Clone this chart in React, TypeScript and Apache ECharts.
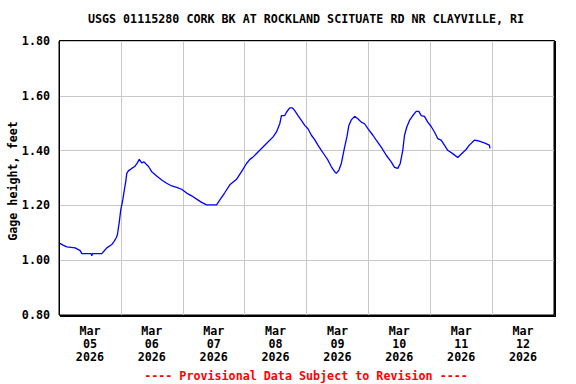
import React, { useEffect, useRef } from "react";
import * as echarts from "echarts";

const titleText = "USGS 01115280 CORK BK AT ROCKLAND SCITUATE RD NR CLAYVILLE, RI";
const yAxisTitle = "Gage height, feet";
const footerText = "---- Provisional Data Subject to Revision ----";
const dayLabels = ["Mar\n05\n2026", "Mar\n06\n2026", "Mar\n07\n2026", "Mar\n08\n2026", "Mar\n09\n2026", "Mar\n10\n2026", "Mar\n11\n2026", "Mar\n12\n2026"];

// days since Mar 05 00:00
const days = [
  0.0, 0.073, 0.127, 0.261, 0.342, 0.369, 0.52, 0.53, 0.54, 0.692, 0.718, 0.773, 0.853, 0.89, 0.923, 0.944, 0.96, 0.976,
  0.998, 1.031, 1.056, 1.079, 1.095, 1.121, 1.176, 1.229, 1.266, 1.298, 1.337, 1.374, 1.406, 1.444, 1.498, 1.579, 1.66,
  1.74, 1.821, 1.902, 1.982, 2.063, 2.144, 2.224, 2.305, 2.385, 2.547, 2.6, 2.681, 2.761, 2.869, 2.95, 3.031, 3.084,
  3.137, 3.245, 3.353, 3.46, 3.515, 3.568, 3.595, 3.648, 3.676, 3.729, 3.773, 3.81, 3.863, 3.918, 3.971, 4.024, 4.079,
  4.132, 4.185, 4.24, 4.294, 4.347, 4.402, 4.455, 4.482, 4.524, 4.563, 4.589, 4.616, 4.653, 4.685, 4.724, 4.777, 4.831,
  4.885, 4.939, 4.992, 5.073, 5.127, 5.208, 5.289, 5.369, 5.423, 5.476, 5.515, 5.556, 5.584, 5.621, 5.665, 5.718, 5.773,
  5.815, 5.853, 5.906, 5.96, 6.015, 6.068, 6.121, 6.176, 6.229, 6.282, 6.363, 6.444, 6.498, 6.579, 6.632, 6.713, 6.766,
  6.874, 6.955, 6.966,
];
const gageHeight = [
  1.063, 1.054, 1.049, 1.045, 1.035, 1.024, 1.024, 1.016, 1.024, 1.024, 1.031, 1.045, 1.057, 1.069, 1.081, 1.093, 1.118, 1.142,
  1.184, 1.22, 1.257, 1.287, 1.317, 1.326, 1.335, 1.343, 1.355, 1.368, 1.355, 1.359, 1.351, 1.343, 1.323, 1.307, 1.293,
  1.281, 1.271, 1.266, 1.259, 1.245, 1.235, 1.223, 1.211, 1.202, 1.202, 1.22, 1.247, 1.275, 1.295, 1.323, 1.353, 1.368,
  1.377, 1.401, 1.426, 1.45, 1.468, 1.498, 1.528, 1.528, 1.54, 1.556, 1.556, 1.546, 1.528, 1.51, 1.492, 1.48, 1.456,
  1.44, 1.42, 1.401, 1.383, 1.365, 1.341, 1.323, 1.317, 1.329, 1.353, 1.383, 1.413, 1.45, 1.492, 1.512, 1.525, 1.516,
  1.504, 1.498, 1.48, 1.456, 1.438, 1.413, 1.383, 1.359, 1.339, 1.335, 1.353, 1.401, 1.456, 1.486, 1.51, 1.528, 1.543,
  1.543, 1.528, 1.525, 1.504, 1.488, 1.468, 1.444, 1.438, 1.42, 1.401, 1.389, 1.375, 1.387, 1.404, 1.42, 1.438, 1.436,
  1.428, 1.42, 1.408,
];

const FONT = "'DejaVu Sans Mono', 'Liberation Mono', monospace";
const FS = 11.7;

export default function App() {
  const ref = useRef<HTMLDivElement>(null);
  useEffect(() => {
    if (!ref.current) return;
    const chart = echarts.init(ref.current, undefined, { renderer: "svg" });
    const data = days.map((d, i) => [d, gageHeight[i]]);
    chart.setOption({
      animation: false,
      backgroundColor: "#ffffff",
      grid: { left: 59, right: 22, top: 41, bottom: 69, show: true, borderColor: "#000", borderWidth: 1, backgroundColor: "#fff" },
      xAxis: [
        { type: "value", min: 0, max: 8, show: false },
        {
          type: "category",
          data: dayLabels,
          boundaryGap: true,
          position: "bottom",
          axisLine: { show: false },
          axisTick: { show: false },
          splitLine: { show: true, lineStyle: { color: "#c8c8c8", width: 1 } },
          axisLabel: { fontFamily: FONT, fontWeight: "bold", fontSize: FS, color: "#000", lineHeight: 13, margin: 9 },
        },
      ],
      yAxis: {
        type: "value",
        min: 0.8,
        max: 1.8,
        interval: 0.2,
        axisLine: { show: false },
        axisTick: { show: false },
        splitLine: { show: true, lineStyle: { color: "#c8c8c8", width: 1 } },
        axisLabel: { fontFamily: FONT, fontWeight: "bold", fontSize: FS, color: "#000", margin: 9, formatter: (v: number) => v.toFixed(2) },
      },
      graphic: [
        { type: "text", x: 306, y: 19, style: { text: titleText, font: `bold ${FS}px ${FONT}`, fill: "#000", textAlign: "center", textVerticalAlign: "middle" } },
        { type: "text", x: 12.5, y: 181, rotation: Math.PI / 2, style: { text: yAxisTitle, font: `bold ${FS}px ${FONT}`, fill: "#000", textAlign: "center", textVerticalAlign: "middle" } },
        { type: "text", x: 306, y: 376, style: { text: footerText, font: `bold ${FS}px ${FONT}`, fill: "#ff0000", textAlign: "center", textVerticalAlign: "middle" } },
        { type: "rect", z: 100, silent: true, shape: { x: 59.5, y: 40.5, width: 495, height: 275 }, style: { fill: "none", stroke: "#000", lineWidth: 1 } },
        { type: "line", z: 100, silent: true, shape: { x1: 555.5, y1: 41, x2: 555.5, y2: 317 }, style: { stroke: "#000", lineWidth: 1 } },
        { type: "line", z: 100, silent: true, shape: { x1: 60, y1: 316.5, x2: 556, y2: 316.5 }, style: { stroke: "#000", lineWidth: 1 } },
      ],
      series: [
        {
          type: "line",
          xAxisIndex: 0,
          data,
          showSymbol: false,
          lineStyle: { color: "#0000ff", width: 1.3 },
          itemStyle: { color: "#0000ff" },
        },
      ],
    });
    return () => chart.dispose();
  }, []);
  return <div ref={ref} style={{ width: 576, height: 384, position: "absolute", left: 0, top: 0 }} />;
}
